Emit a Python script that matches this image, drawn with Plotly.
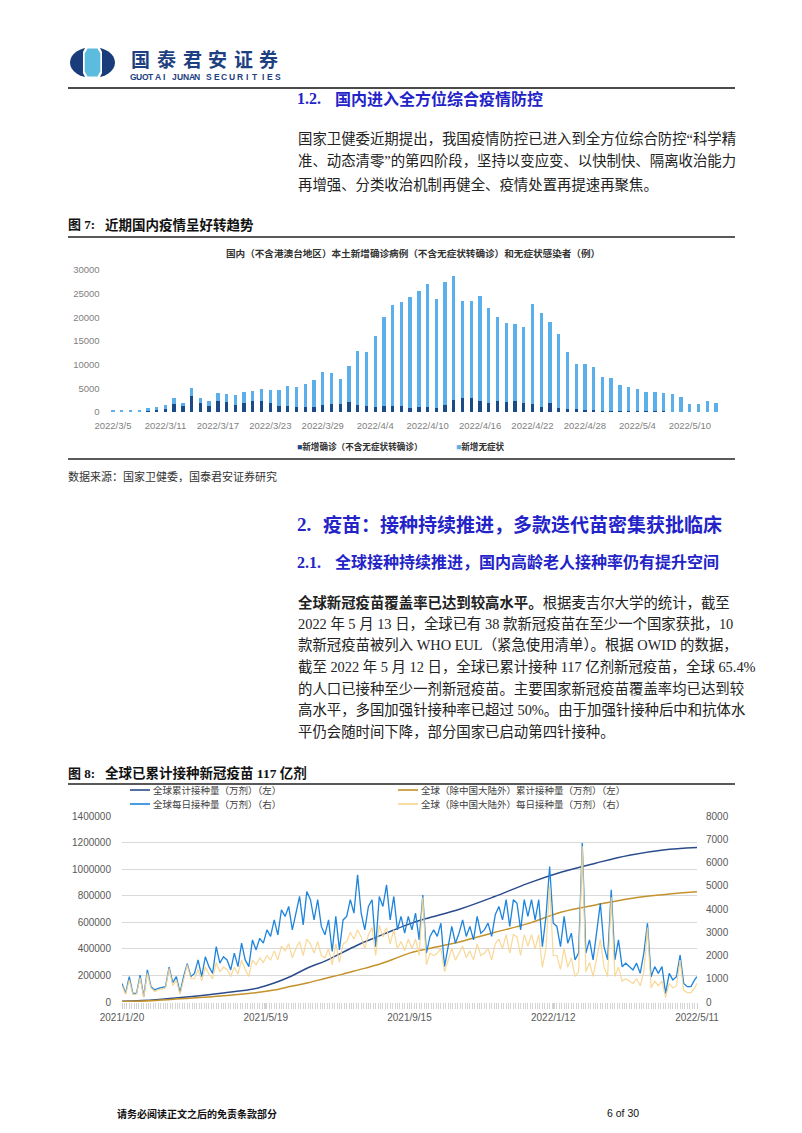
import plotly.graph_objects as go
import pandas as pd

W, H = 802, 1133

# ---------------- Chart 1 data (例) ----------------
case_dates = ["2022/3/5", "2022/3/6", "2022/3/7", "2022/3/8", "2022/3/9", "2022/3/10", "2022/3/11",
              "2022/3/12", "2022/3/13", "2022/3/14", "2022/3/15", "2022/3/16", "2022/3/17", "2022/3/18",
              "2022/3/19", "2022/3/20", "2022/3/21", "2022/3/22", "2022/3/23", "2022/3/24", "2022/3/25",
              "2022/3/26", "2022/3/27", "2022/3/28", "2022/3/29", "2022/3/30", "2022/3/31", "2022/4/1",
              "2022/4/2", "2022/4/3", "2022/4/4", "2022/4/5", "2022/4/6", "2022/4/7", "2022/4/8",
              "2022/4/9", "2022/4/10", "2022/4/11", "2022/4/12", "2022/4/13", "2022/4/14", "2022/4/15",
              "2022/4/16", "2022/4/17", "2022/4/18", "2022/4/19", "2022/4/20", "2022/4/21", "2022/4/22",
              "2022/4/23", "2022/4/24", "2022/4/25", "2022/4/26", "2022/4/27", "2022/4/28", "2022/4/29",
              "2022/4/30", "2022/5/1", "2022/5/2", "2022/5/3", "2022/5/4", "2022/5/5", "2022/5/6",
              "2022/5/7", "2022/5/8", "2022/5/9", "2022/5/10", "2022/5/11", "2022/5/12", "2022/5/13"]
new_confirmed = [150, 180, 200, 180, 350, 400, 700, 1670, 1250, 3330, 1800, 1180, 2360, 2150,
                 1530, 1870, 2220, 2430, 1870, 1180, 1180, 1110, 970, 1110, 1460, 1670, 1670, 2010,
                 1390, 1250, 1040, 1250, 1180, 1180, 830, 1040, 970, 900, 1390, 2640, 2980, 2910,
                 2220, 1800, 2220, 2080, 2360, 1870, 1730, 970, 1800, 900, 555, 555, 490, 350,
                 140, 280, 140, 150, 150, 150, 150, 120, 100, 100, 80, 80, 100, 90]
new_asymptomatic = [150, 220, 220, 220, 410, 570, 690, 1330, 690, 1740, 1100, 1120, 1670, 1650,
                    2150, 2360, 2220, 2360, 2710, 3400, 4230, 4160, 4860, 5620, 6940, 6520, 5340, 7640,
                    11450, 11520, 14990, 18740, 21380, 22070, 23460, 24570, 26030, 22900, 26010, 26160, 20410, 20480,
                    22210, 20200, 17910, 16800, 16170, 16170, 21030, 19990, 17150, 15620, 12215, 9575, 9710, 9160,
                    7290, 6800, 5550, 5120, 4640, 4150, 4150, 3980, 3790, 3160, 1520, 1590, 2120, 1710]
case_tick_labels = case_dates[::6]
case_y_ticks = [0, 5000, 10000, 15000, 20000, 25000, 30000]

# ---------------- Chart 2 data (万剂) ----------------
daily_start = "2021-01-20"
daily_end = "2022-05-11"
global_daily = [800, 370, 1090, 370, 370, 1160, 230, 1380, 660, 520,
                590, 620, 660, 1500, 830, 1090, 400, 1090, 1650, 1090,
                1230, 1810, 1090, 1950, 1520, 1230, 2380, 1670, 1950, 1810,
                1380, 2100, 1520, 2530, 1810, 1520, 2670, 2240, 2740, 2530,
                3100, 2820, 3530, 2890, 3960, 3680, 4110, 3100, 3820, 4540,
                3320, 4750, 4400, 3530, 4400, 3250, 2890, 3530, 2170, 3680,
                2240, 3530, 3680, 4400, 3820, 5470, 3820, 3100, 4110, 4400,
                2380, 4540, 4110, 5040, 3530, 4540, 3100, 3680, 2960, 3680,
                3100, 3820, 2670, 4600, 2100, 2820,
                3100, 2820, 3390, 1520, 2380, 3250, 2530, 2960, 3530, 2820,
                3250, 2670, 3680, 2960, 3100, 3390, 2820, 3750, 4110, 3530,
                4400, 3250, 4400, 4250, 3100, 4400, 3680, 4400, 3530, 4400,
                2380, 3680, 5830, 3390, 3250, 2380, 3680, 2530, 2960, 1810,
                2100, 6840, 2100, 2670, 1810, 2960, 4250, 2380, 1810, 4830,
                1810, 2670, 1520, 1670, 1520, 1380, 1670, 1230, 2100, 3390,
                1090, 1520, 1230, 1520, 370, 1230, 950, 1090, 2020, 800,
                660, 660, 950, 1090]
exchina_daily = [700, 330, 950, 330, 340, 1050, 200, 1250, 600, 450,
                 520, 560, 600, 1450, 700, 950, 330, 950, 1600, 1000,
                 1000, 1400, 900, 1500, 1200, 1000, 1700, 1300, 1500, 1400,
                 1100, 1500, 1200, 1800, 1400, 1100, 1800, 1600, 1900, 1700,
                 2000, 1800, 2200, 1800, 2400, 2200, 2500, 1900, 2300, 2600,
                 2000, 2700, 2500, 2100, 2600, 2000, 1900, 2300, 1600, 2500,
                 1700, 2500, 2600, 3000, 2700, 3100, 2800, 2300, 2900, 3200,
                 2000, 3300, 2800, 3200, 2500, 3100, 2300, 2600, 2200, 2700,
                 2300, 2700, 2000, 4500, 1600, 2100,
                 2000, 2100, 2300, 1300, 1800, 2300, 1800, 2100, 2400, 1900,
                 2200, 1800, 2500, 2000, 2100, 2300, 1800, 2500, 2700, 2300,
                 2900, 2100, 2900, 2800, 2000, 2900, 2400, 2900, 2300, 2900,
                 1500, 2300, 5000, 2000, 2000, 1400, 2300, 1500, 1900, 1100,
                 1300, 6700, 1300, 1700, 1100, 1900, 2700, 1500, 1100, 4500,
                 1100, 1500, 900, 1000, 900, 800, 1000, 700, 1300, 3200,
                 600, 900, 700, 900, 200, 800, 600, 700, 1800, 500,
                 400, 400, 600, 800]
cum_dates = ["2021-01-20", "2021-02-17", "2021-03-17", "2021-04-14", "2021-05-12", "2021-05-26",
             "2021-06-09", "2021-06-23", "2021-07-07", "2021-07-21", "2021-08-04", "2021-08-18",
             "2021-09-01", "2021-09-15", "2021-09-29", "2021-10-27", "2021-11-24", "2021-12-22",
             "2022-01-19", "2022-02-16", "2022-03-16", "2022-04-13", "2022-05-11"]
global_cum = [5000, 17000, 40000, 68000, 104000, 143000, 194000, 258000, 308000, 370000, 433000,
              486000, 538000, 588000, 628000, 700000, 792000, 893000, 978000, 1045000, 1105000,
              1145000, 1163000]
exchina_cum = [3000, 12000, 28000, 47000, 71000, 90000, 118000, 145000, 177000, 208000, 242000,
               276000, 320000, 368000, 398000, 454000, 523000, 590000, 677000, 730000, 778000,
               808000, 830000]
vax_tick_dates = ["2021-01-20", "2021-05-19", "2021-09-15", "2022-01-12", "2022-05-11"]
vax_tick_labels = ["2021/1/20", "2021/5/19", "2021/9/15", "2022/1/12", "2022/5/11"]

daily_dates = [d.strftime("%Y-%m-%d") for d in pd.date_range(daily_start, periods=len(global_daily) - 1, freq="3D")]
daily_dates.append(daily_end)

# ---------------- styles ----------------
C_DARK = "#1B4A86"
C_LIGHT = "#5BAFEA"
C_GCUM = "#2B4C8C"
C_GDAY = "#1E84DC"
C_XCUM = "#C4922A"
C_XDAY = "#F9D58E"
BLUE_HEAD = "#2323C8"
LOGO_BLUE = "#1E4080"
BODY = "Liberation Serif, Noto Sans CJK SC"
SANS = "Noto Sans CJK SC"


def fx(px):
    return px / W


def fy(py):
    return 1 - py / H


fig = go.Figure()

fig.add_trace(go.Bar(x=case_dates, y=new_confirmed, marker_color=C_DARK, name="新增确诊（不含无症状转确诊）",
                     xaxis="x", yaxis="y"))
fig.add_trace(go.Bar(x=case_dates, y=new_asymptomatic, marker_color=C_LIGHT, name="新增无症状",
                     xaxis="x", yaxis="y"))

fig.add_trace(go.Scatter(x=daily_dates, y=global_daily, mode="lines", line=dict(color=C_GDAY, width=1.3),
                         xaxis="x2", yaxis="y3"))
fig.add_trace(go.Scatter(x=daily_dates, y=exchina_daily, mode="lines", line=dict(color=C_XDAY, width=1.2),
                         opacity=0.9, xaxis="x2", yaxis="y3"))
fig.add_trace(go.Scatter(x=cum_dates, y=global_cum, mode="lines", line=dict(color=C_GCUM, width=1.5, shape="spline"),
                         xaxis="x2", yaxis="y2"))
fig.add_trace(go.Scatter(x=cum_dates, y=exchina_cum, mode="lines", line=dict(color=C_XCUM, width=1.5, shape="spline"),
                         xaxis="x2", yaxis="y2"))

tick_font1 = dict(family="Liberation Sans, Noto Sans CJK SC", size=9.5, color="#7F7F7F")
tick_font2 = dict(family="Liberation Sans, Noto Sans CJK SC", size=10, color="#595959")

fig.update_layout(
    template="none",
    width=W, height=H, margin=dict(l=0, r=0, t=0, b=0, autoexpand=False),
    paper_bgcolor="white", plot_bgcolor="white", showlegend=False,
    barmode="stack", bargap=0.62,
    xaxis=dict(domain=[fx(108.6), fx(720.4)], type="category", anchor="y", automargin=False,
               tickmode="array", tickvals=case_tick_labels, ticktext=case_tick_labels,
               showgrid=False, showline=False, zeroline=False, ticks="", ticklabelstandoff=6,
               tickfont=tick_font1, tickangle=0),
    yaxis=dict(domain=[fy(412), fy(270)], range=[0, 30000], anchor="x", automargin=False,
               tickvals=case_y_ticks, tickformat="d", showgrid=False, showline=False, zeroline=False,
               ticks="", ticklabelstandoff=8, tickfont=tick_font1),
    xaxis2=dict(domain=[fx(122), fx(697)], type="date", anchor="y2", automargin=False,
                range=[daily_start, daily_end],
                tickmode="array", tickvals=vax_tick_dates, ticktext=vax_tick_labels,
                showgrid=False, showline=False, zeroline=False,
                ticks="outside", ticklen=6, tickcolor="#CFCFCF", tickwidth=1,
                minor=dict(ticks="outside", ticklen=6, tickcolor="#D4D4D4", tickwidth=1,
                           dtick=2 * 86400000, tick0=daily_start, showgrid=False),
                tickfont=tick_font2, tickangle=0),
    yaxis2=dict(domain=[fy(1002), fy(816)], range=[0, 1400000], anchor="x2", dtick=200000, automargin=False,
                showgrid=True, gridcolor="#D9D9D9", gridwidth=1, zeroline=False, showline=False,
                ticks="", ticklabelstandoff=10, tickfont=tick_font2, tickformat="d"),
    yaxis3=dict(range=[0, 8000], overlaying="y2", side="right", anchor="x2", dtick=1000, automargin=False,
                showgrid=False, zeroline=False, showline=False, ticks="", ticklabelstandoff=8,
                tickfont=tick_font2, tickformat="d"),
)

shapes = []


def hline(x0, x1, y, color, width):
    shapes.append(dict(type="line", xref="paper", yref="paper", x0=fx(x0), x1=fx(x1), y0=fy(y), y1=fy(y),
                       line=dict(color=color, width=width)))


def poly(points, fill, line_color=None, line_width=0):
    path = "M " + " L ".join(f"{fx(a):.5f},{fy(b):.5f}" for a, b in points) + " Z"
    shapes.append(dict(type="path", xref="paper", yref="paper", path=path, fillcolor=fill,
                       line=dict(color=line_color or fill, width=line_width)))


# logo
shapes.append(dict(type="circle", xref="paper", yref="paper", x0=fx(70), x1=fx(115), y0=fy(78), y1=fy(47),
                   fillcolor="#1B3C7A", line=dict(width=0)))
poly([(86, 46), (99, 46), (102, 52), (102, 73), (99, 79), (86, 79), (83, 73), (83, 52)], "white")
poly([(87.5, 48.5), (97.5, 48.5), (100.3, 53.5), (100.3, 71.5), (97.5, 76.5), (87.5, 76.5), (84.7, 71.5),
      (84.7, 53.5)], "#5BBCDD")

hline(68, 735, 88, "#4A4A4A", 2.2)
hline(68, 735, 237, "#222222", 1.5)
hline(68, 735, 459, "#5A5A5A", 2)
hline(68, 735, 784, "#222222", 1.5)

hline(130, 150, 790, C_GCUM, 1.6)
hline(130, 150, 804, C_GDAY, 1.6)
hline(398, 418, 790, C_XCUM, 1.6)
hline(398, 418, 804, C_XDAY, 1.6)

fig.update_layout(shapes=shapes)


def text(px, py, s, size, color="#222222", family=BODY, anchor="left", yanchor="middle"):
    fig.add_annotation(x=fx(px), y=fy(py), xref="paper", yref="paper", text=s, showarrow=False,
                       xanchor=anchor, yanchor=yanchor, font=dict(size=size, color=color, family=family),
                       borderpad=0)


# header logo text (wide letter pitch, one glyph per slot)
logo_chars = "国泰君安证券"
for i, ch in enumerate(logo_chars):
    text(128 + 12.8 + 25.6 * i, 58.5, f"<b>{ch}</b>", 19, LOGO_BLUE, SANS, "center")
logo_words = [("GUOTAI", 130, 166.7), ("JUNAN", 171.7, 200), ("SECURITIES", 205, 281.7)]
for word, x0, x1 in logo_words:
    pitch = (x1 - x0) / len(word)
    for j, ch in enumerate(word):
        text(x0 + pitch * (j + 0.5), 71.5, f"<b>{ch}</b>", 8.5, LOGO_BLUE, "Liberation Sans", "center", "top")

# section 1.2
text(296, 99, "<b>1.2.</b>", 16, BLUE_HEAD, BODY)
text(334, 99, "<b>国内进入全方位综合疫情防控</b>", 16, BLUE_HEAD, BODY)
para1 = ["国家卫健委近期提出，我国疫情防控已进入到全方位综合防控“科学精",
         "准、动态清零”的第四阶段，坚持以变应变、以快制快、隔离收治能力",
         "再增强、分类收治机制再健全、疫情处置再提速再聚焦。"]
for i, s in enumerate(para1):
    text(297, 138 + 23 * i, s, 14.4)

# figure 7
text(67, 225, "<b>图 7:</b>", 13, "#111111", BODY)
text(104, 225, "<b>近期国内疫情呈好转趋势</b>", 13.5, "#111111", BODY)
text(413, 253, "<b>国内（不含港澳台地区）本土新增确诊病例（不含无症状转确诊）和无症状感染者（例）</b>", 9.6,
     "#333333", BODY, "center")
text(296, 446, f'<span style="color:{C_DARK}">■</span><b>新增确诊（不含无症状转确诊）</b>', 8.6, "#333333", BODY)
text(455, 446, f'<span style="color:{C_LIGHT}">■</span><b>新增无症状</b>', 8.6, "#333333", BODY)
text(67, 476, "数据来源：国家卫健委，国泰君安证券研究", 11, "#333333", BODY)

# section 2
text(296, 525, "<b>2.</b>", 19, BLUE_HEAD, BODY)
text(322, 525, "<b>疫苗：接种持续推进，多款迭代苗密集获批临床</b>", 19, BLUE_HEAD, BODY)
text(296, 562, "<b>2.1.</b>", 16, BLUE_HEAD, BODY)
text(334, 562, "<b>全球接种持续推进，国内高龄老人接种率仍有提升空间</b>", 16, BLUE_HEAD, BODY)
para2 = ["<b>全球新冠疫苗覆盖率已达到较高水平。</b>根据麦吉尔大学的统计，截至",
         "2022 年 5 月 13 日，全球已有 38 款新冠疫苗在至少一个国家获批，10",
         "款新冠疫苗被列入 WHO EUL（紧急使用清单）。根据 OWID 的数据，",
         "截至 2022 年 5 月 12 日，全球已累计接种 117 亿剂新冠疫苗，全球 65.4%",
         "的人口已接种至少一剂新冠疫苗。主要国家新冠疫苗覆盖率均已达到较",
         "高水平，多国加强针接种率已超过 50%。由于加强针接种后中和抗体水",
         "平仍会随时间下降，部分国家已启动第四针接种。"]
for i, s in enumerate(para2):
    text(297, 602 + 21.6 * i, s, 14.4)

# figure 8
text(67, 773, "<b>图 8:</b>", 13, "#111111", BODY)
text(104, 773, "<b>全球已累计接种新冠疫苗 117 亿剂</b>", 13.5, "#111111", BODY)
leg_font = "Noto Sans CJK SC"
text(152, 790, "全球累计接种量（万剂）（左）", 9.5, "#404040", leg_font)
text(152, 804, "全球每日接种量（万剂）（右）", 9.5, "#404040", leg_font)
text(420, 790, "全球（除中国大陆外）累计接种量（万剂）（左）", 9.5, "#404040", leg_font)
text(420, 804, "全球（除中国大陆外）每日接种量（万剂）（右）", 9.5, "#404040", leg_font)

# footer
text(116, 1113, "<b>请务必阅读正文之后的免责条款部分</b>", 10, "#111111", SANS)
text(606, 1113, "6 of 30", 10.5, "#111111", "Liberation Sans Narrow, Liberation Sans")

fig.write_html("out.html")
